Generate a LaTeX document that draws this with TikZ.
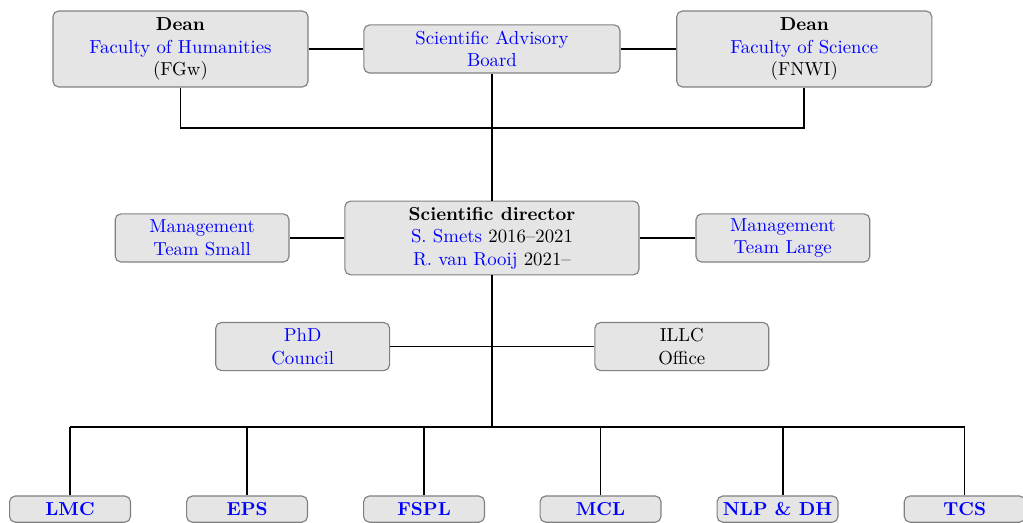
\documentclass[tikz,border=0pt]{standalone}
\usetikzlibrary{positioning}
\tikzset{
  unit/.style={draw=black!50, fill=black!10, rounded corners=3pt, align=center,
               inner sep=2pt, line width=0.6pt},
  deanbox/.style={unit, minimum width=4.77cm, minimum height=1.42cm},
  boardbox/.style={unit, minimum width=4.79cm, minimum height=0.90cm},
  dirbox/.style={unit, minimum width=5.50cm, minimum height=1.38cm},
  sidebox/.style={unit, minimum width=3.25cm, minimum height=0.90cm},
  groupbox/.style={unit, minimum width=2.26cm, minimum height=0.49cm, inner sep=1pt,
                   font=\bfseries, text=blue},
  link/.style={draw=black, line width=1pt},
  twig/.style={draw=black, line width=0.8pt},
}
\newcommand{\blu}[1]{\textcolor{blue}{#1}}

\begin{document}
\begin{tikzpicture}
\useasboundingbox (0,0) rectangle (19.13,-9.78);

% Top level
\node[deanbox] (fgw) at (3.375,-0.916) {\textbf{Dean}\\\blu{Faculty of Humanities}\\(FGw)};
\node[boardbox] (sab) at (9.20,-0.916) {\blu{Scientific Advisory}\\\blu{Board}};
\node[deanbox] (fnwi) at (15.04,-0.916) {\textbf{Dean}\\\blu{Faculty of Science}\\(FNWI)};
\draw[link] (fgw) -- (sab);
\draw[link] (sab) -- (fnwi);

% Director
\node[dirbox] (sd) at (9.20,-4.45) {\textbf{Scientific director}\\\blu{S. Smets} 2016--2021\\\blu{R. van Rooij} 2021--};
\node[sidebox] (mts) at (3.78,-4.45) {\blu{Management}\\\blu{Team Small}};
\node[sidebox] (mtl) at (14.64,-4.45) {\blu{Management}\\\blu{Team Large}};
\draw[link] (mts) -- (sd);
\draw[link] (sd) -- (mtl);

% Deans to director
\coordinate (topbus) at (9.20,-2.394);
\draw[link] (fgw.south) -- (fgw.south |- topbus) -- (fnwi.south |- topbus) -- (fnwi.south);
\draw[link] (sab) -- (sd);

% Council and office
\node[sidebox] (phd) at (5.66,-6.48) {\blu{PhD}\\\blu{Council}};
\node[sidebox] (office) at (12.75,-6.48) {ILLC\\Office};
\draw[link] (phd) -- (office);

% Groups
\coordinate (lowbus) at (9.20,-7.985);
\draw[link] (sd) -- (lowbus);
\foreach \name/\x/\off/\txt in {lmc/1.31/0/LMC, eps/4.62/0/EPS, fspl/7.93/0/FSPL,
                                mcl/11.23/0/MCL, nlp/14.54/0.1/NLP \& DH, tcs/18.04/0/TCS} {
  \node[groupbox] (\name) at (\x,-9.52) {\txt};
  \draw[twig] ([xshift=\off cm]\name.north) -- ([xshift=\off cm]\name.north |- lowbus);
}
\draw[link] (lmc.north |- lowbus) -- (tcs.north |- lowbus);

\end{tikzpicture}
\end{document}
